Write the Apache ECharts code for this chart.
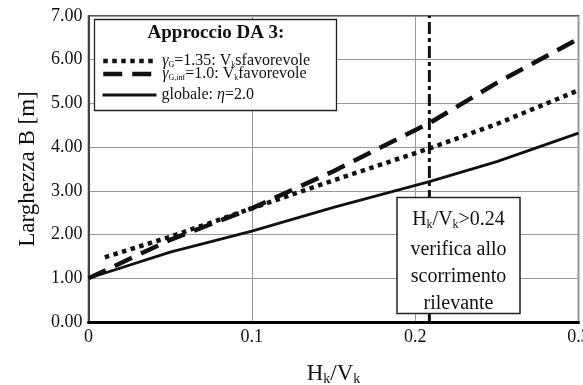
<!DOCTYPE html>
<html>
<head>
<meta charset="utf-8">
<script src="https://cdn.jsdelivr.net/npm/echarts@6/dist/echarts.min.js"></script>
<style>
  html, body { margin: 0; padding: 0; background: #fff; }
  #chart { width: 583px; height: 385px; }
</style>
</head>
<body>
<div id="chart"></div>
<script>
// curves
const sfavX = [0.01, 0.05, 0.1, 0.15, 0.2087, 0.25, 0.3];
const sfavY = [1.48, 1.95, 2.6, 3.24, 3.97, 4.53, 5.3];
const favX = [0, 0.025, 0.05, 0.1, 0.15, 0.2087, 0.25, 0.3];
const favY = [1.0, 1.44, 1.88, 2.6, 3.45, 4.55, 5.47, 6.48];
const globX = [0, 0.05, 0.1, 0.15, 0.2087, 0.25, 0.3];
const globY = [1.0, 1.6, 2.08, 2.62, 3.21, 3.67, 4.32];
const limitX = [0.2087, 0.2087];
const limitY = [0, 7];
const xTicks = [0, 0.1, 0.2, 0.3];
const yTicks = [0, 1, 2, 3, 4, 5, 6, 7];

const pairs = (xs, ys) => xs.map((x, i) => [x, ys[i]]);
const FONT = "Liberation Serif";
const INK = "#111";

const DOT = [4.5, 4.5];
const DASH = [19, 10];

const legendText = {
  sfav: "{g|γ}{s|G}{t|=1.35: V}{s|k}{t|sfavorevole}",
  fav: "{g|γ}{s|G,inf}{t|=1.0: V}{s|k}{t|favorevole}",
  glob: "{t|globale: }{g|η}{t|=2.0}",
};
const legendRich = {
  t: { fontFamily: FONT, fontSize: 16, color: INK, lineHeight: 16 },
  g: { fontFamily: FONT, fontSize: 16, color: INK, fontStyle: "italic", lineHeight: 16 },
  s: { fontFamily: FONT, fontSize: 8, color: INK, lineHeight: 9, verticalAlign: "bottom" },
};

const mkLegend = (name, top, type, width) => ({
  data: [name],
  left: 101,
  top: top,
  z: 10,
  itemWidth: 54,
  itemHeight: 12,
  itemGap: 0,
  padding: 0,
  lineStyle: { type: type, width: width, color: INK, cap: "butt" },
  itemStyle: { opacity: 0 },
  formatter: (n) => legendText[n],
  textStyle: { rich: legendRich },
});

const chart = echarts.init(document.getElementById("chart"));
const option = {
  backgroundColor: "#fff",
  animation: false,
  grid: {
    left: 88.5,
    right: 4.5,
    top: 16,
    bottom: 63,
    outerBoundsMode: "none",
    containLabel: false,
    show: true,
    borderColor: "#222",
    borderWidth: 1.5,
  },
  xAxis: {
    type: "value",
    min: 0,
    max: 0.3,
    interval: 0.1,
    name: "{a|H}{s|k}{a|/V}{s|k}",
    nameLocation: "middle",
    nameGap: 40,
    nameTextStyle: {
      rich: {
        a: { fontFamily: FONT, fontSize: 23, color: INK, lineHeight: 24 },
        s: { fontFamily: FONT, fontSize: 14, color: INK, lineHeight: 14, verticalAlign: "bottom" },
      },
    },
    axisLine: { lineStyle: { color: "#000", width: 3 } },
    axisTick: { show: false },
    axisLabel: {
      fontFamily: FONT,
      fontSize: 18,
      color: INK,
      margin: 6,
      formatter: (v) => (xTicks.includes(+v.toFixed(2)) ? String(+v.toFixed(2)) : ""),
    },
    splitLine: { lineStyle: { color: "#999", width: 1 } },
  },
  yAxis: {
    type: "value",
    min: 0,
    max: 7,
    interval: 1,
    name: "Larghezza B [m]",
    nameLocation: "middle",
    nameGap: 49,
    nameTextStyle: { fontFamily: FONT, fontSize: 23, color: INK },
    axisLine: { show: true, lineStyle: { color: "#444", width: 2 } },
    axisTick: { show: false },
    axisLabel: {
      fontFamily: FONT,
      fontSize: 18,
      color: INK,
      margin: 6,
      formatter: (v) => (yTicks.includes(v) ? v.toFixed(2) : ""),
    },
    splitLine: { lineStyle: { color: "#999", width: 1 } },
  },
  legend: [
    mkLegend("sfav", 53, DOT, 4.5),
    mkLegend("fav", 66, DASH, 4.5),
    mkLegend("glob", 87, "solid", 3),
  ],
  series: [
    {
      name: "sfav",
      type: "line",
      data: pairs(sfavX, sfavY),
      symbol: "none",
      lineStyle: { color: INK, width: 4.5, type: DOT, cap: "butt" },
      itemStyle: { color: INK },
      z: 3,
    },
    {
      name: "fav",
      type: "line",
      data: pairs(favX, favY),
      symbol: "none",
      lineStyle: { color: INK, width: 4.5, type: DASH, cap: "butt" },
      itemStyle: { color: INK },
      z: 3,
    },
    {
      name: "glob",
      type: "line",
      data: pairs(globX, globY),
      symbol: "none",
      lineStyle: { color: INK, width: 2.8 },
      itemStyle: { color: INK },
      z: 3,
    },
    {
      name: "limit",
      type: "line",
      data: pairs(limitX, limitY),
      symbol: "none",
      lineStyle: { color: INK, width: 3, type: [12, 4, 4, 4], cap: "butt" },
      z: 2,
    },
  ],
  graphic: [
    {
      type: "rect",
      shape: { x: 94.5, y: 19.5, width: 242, height: 91 },
      style: { fill: "#fff", stroke: "#222", lineWidth: 1.3 },
      z: 5,
    },
    {
      type: "text",
      x: 216,
      y: 33,
      style: {
        text: "Approccio DA 3:",
        fontFamily: FONT,
        fontSize: 19,
        fontWeight: "bold",
        fill: INK,
        align: "center",
        verticalAlign: "middle",
      },
      z: 6,
    },
    {
      type: "rect",
      shape: { x: 397, y: 197.5, width: 123, height: 116 },
      style: { fill: "#fff", stroke: "#222", lineWidth: 1.5 },
      z: 5,
    },
    {
      type: "text",
      x: 458.5,
      y: 220,
      style: {
        text: "{a|H}{s|k}{a|/V}{s|k}{a|>0.24}",
        rich: {
          a: { fontFamily: FONT, fontSize: 20, fill: INK, lineHeight: 22 },
          s: { fontFamily: FONT, fontSize: 12, fill: INK, lineHeight: 12, verticalAlign: "bottom" },
        },
        align: "center",
        verticalAlign: "middle",
      },
      z: 6,
    },
    ...["verifica allo", "scorrimento", "rilevante"].map((t, i) => ({
      type: "text",
      x: 458.5,
      y: 250 + i * 27,
      style: {
        text: t,
        fontFamily: FONT,
        fontSize: 20,
        fill: INK,
        align: "center",
        verticalAlign: "middle",
      },
      z: 6,
    })),
  ],
};
chart.setOption(option);
</script>
</body>
</html>
